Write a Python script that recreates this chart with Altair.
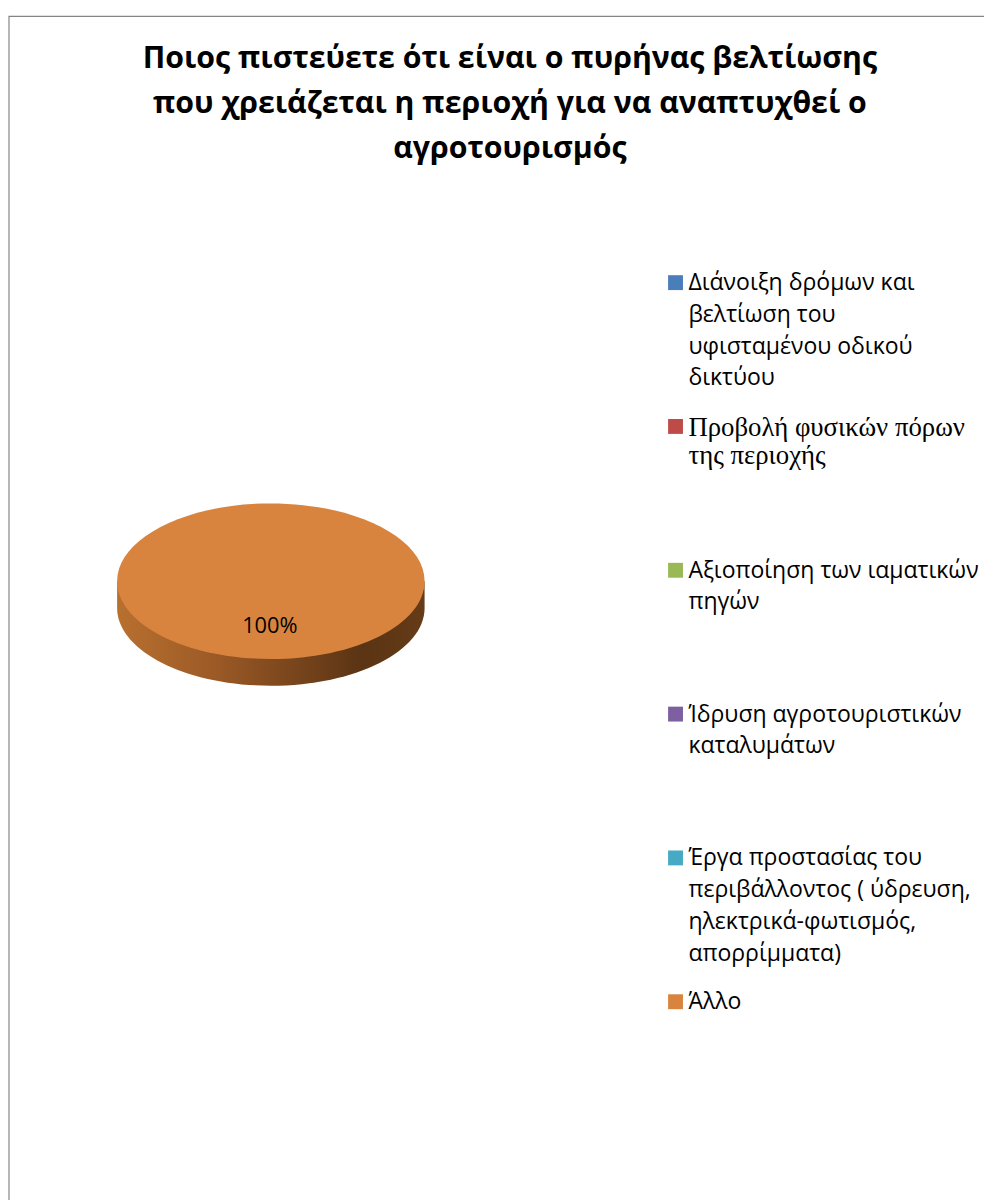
import altair as alt
import pandas as pd

# ---------------- data ----------------
title_lines = [
    "Ποιος πιστεύετε ότι είναι ο πυρήνας βελτίωσης",
    "που χρειάζεται η περιοχή για να αναπτυχθεί ο",
    "αγροτουρισμός",
]
categories = [
    "Διάνοιξη δρόμων και βελτίωση του υφισταμένου οδικού δικτύου",
    "Προβολή φυσικών πόρων της περιοχής",
    "Αξιοποίηση των ιαματικών πηγών",
    "Ίδρυση αγροτουριστικών καταλυμάτων",
    "Έργα προστασίας του περιβάλλοντος ( ύδρευση, ηλεκτρικά-φωτισμός, απορρίμματα)",
    "Άλλο",
]
legend_lines = [
    ["Διάνοιξη δρόμων και", "βελτίωση του", "υφισταμένου οδικού", "δικτύου"],
    ["Προβολή φυσικών πόρων", "της περιοχής"],
    ["Αξιοποίηση των ιαματικών", "πηγών"],
    ["Ίδρυση αγροτουριστικών", "καταλυμάτων"],
    ["Έργα προστασίας του", "περιβάλλοντος ( ύδρευση,", "ηλεκτρικά-φωτισμός,", "απορρίμματα)"],
    ["Άλλο"],
]
values = [0, 0, 0, 0, 0, 100]
colors = ["#4a7ebb", "#be4b48", "#98b954", "#7d60a0", "#46aac5", "#d9843e"]
serif_items = [1]

# ---------------- layout ----------------
W, H = 984, 1192
PIE_X, PIE_Y, PIE_W = 265, 573, 310
RY, DEPTH = 0.506, 0.174
TITLE_X, TITLE_Y0, TITLE_DY = 506, 56, 45
LEG_SQ_X, LEG_TXT_X, LEG_Y0, LEG_DY = 673, 686, 272, 145
SANS, SERIF = "Open Sans", "Liberation Serif"

top_path = f"M -1 0 A 1 {RY} 0 1 1 1 0 A 1 {RY} 0 1 1 -1 0 Z"
side_path = f"M -1 0 L -1 {DEPTH} A 1 {RY} 0 0 0 1 {DEPTH} L 1 0 Z"

pie_df = pd.DataFrame({"category": categories, "value": values})

leg_rows, line_rows = [], []
for i, (cat, lines) in enumerate(zip(categories, legend_lines)):
    cy = LEG_Y0 + LEG_DY * i
    leg_rows.append({"category": cat, "ly": cy})
    serif = i in serif_items
    dy = 28 if serif else 32
    off = 10 if serif else 7.5
    for j, t in enumerate(lines):
        line_rows.append({"text": t, "ly": cy + off + j * dy, "serif": serif})
leg_df = pd.DataFrame(leg_rows)
line_df = pd.DataFrame(line_rows)
title_df = pd.DataFrame({"text": title_lines,
                         "ly": [TITLE_Y0 + TITLE_DY * k for k in range(len(title_lines))]})

color_scale = alt.Scale(domain=categories, range=colors)
ycoord = alt.Y("ly:Q", scale=None)

border = alt.Chart(pd.DataFrame({"a": [0]})).mark_rect(
    fill="white", stroke="#858585", strokeWidth=1.2
).encode(x=alt.value(1), x2=alt.value(1200), y=alt.value(3.5), y2=alt.value(1400))

base_pie = (alt.Chart(pie_df)
            .transform_joinaggregate(total="sum(value)")
            .transform_calculate(pct="datum.value / datum.total")
            .transform_filter("datum.value > 0"))

side = base_pie.mark_point(
    shape=side_path, filled=True, opacity=1, strokeWidth=0,
    fill={"gradient": "linear", "x1": 0, "x2": 1, "y1": 0, "y2": 0,
          "stops": [{"offset": 0, "color": "#b8702f"},
                    {"offset": 0.3, "color": "#9e5b27"},
                    {"offset": 0.55, "color": "#7c471d"},
                    {"offset": 0.8, "color": "#5a3414"},
                    {"offset": 1, "color": "#663b17"}]},
).encode(x=alt.value(PIE_X), y=alt.value(PIE_Y), size=alt.value(PIE_W ** 2))

top = base_pie.mark_point(shape=top_path, filled=True, opacity=1, strokeWidth=0).encode(
    x=alt.value(PIE_X), y=alt.value(PIE_Y), size=alt.value(PIE_W ** 2),
    color=alt.Color("category:N", scale=color_scale, legend=None),
)

label = base_pie.mark_text(font=SANS, fontSize=22, color="#000000",
                           align="center", baseline="alphabetic").encode(
    x=alt.value(PIE_X - 1), y=alt.value(625),
    text=alt.Text("pct:Q", format=".0%"),
)

title = alt.Chart(title_df).mark_text(
    font=SANS, fontSize=30.5, fontWeight="bold", color="#000000",
    align="center", baseline="alphabetic",
).encode(x=alt.value(TITLE_X), y=ycoord, text="text:N")

squares = alt.Chart(leg_df).mark_square(size=225, filled=True, opacity=1).encode(
    x=alt.value(LEG_SQ_X), y=ycoord,
    color=alt.Color("category:N", scale=color_scale, legend=None),
)

leg_sans = alt.Chart(line_df).transform_filter("!datum.serif").mark_text(
    font=SANS, fontSize=23.2, color="#000000", align="left", baseline="alphabetic"
).encode(x=alt.value(LEG_TXT_X), y=ycoord, text="text:N")

leg_serif = alt.Chart(line_df).transform_filter("datum.serif").mark_text(
    font=SERIF, fontSize=27, color="#000000", align="left", baseline="alphabetic"
).encode(x=alt.value(LEG_TXT_X), y=ycoord, text="text:N")

chart = alt.layer(border, side, top, label, title, squares, leg_sans, leg_serif).properties(
    width=W, height=H, autosize=alt.AutoSizeParams(type="none"), padding=0,
    background="white",
).configure_view(stroke=None)

chart.save("out.html", embed_options={"renderer": "svg", "actions": False})
